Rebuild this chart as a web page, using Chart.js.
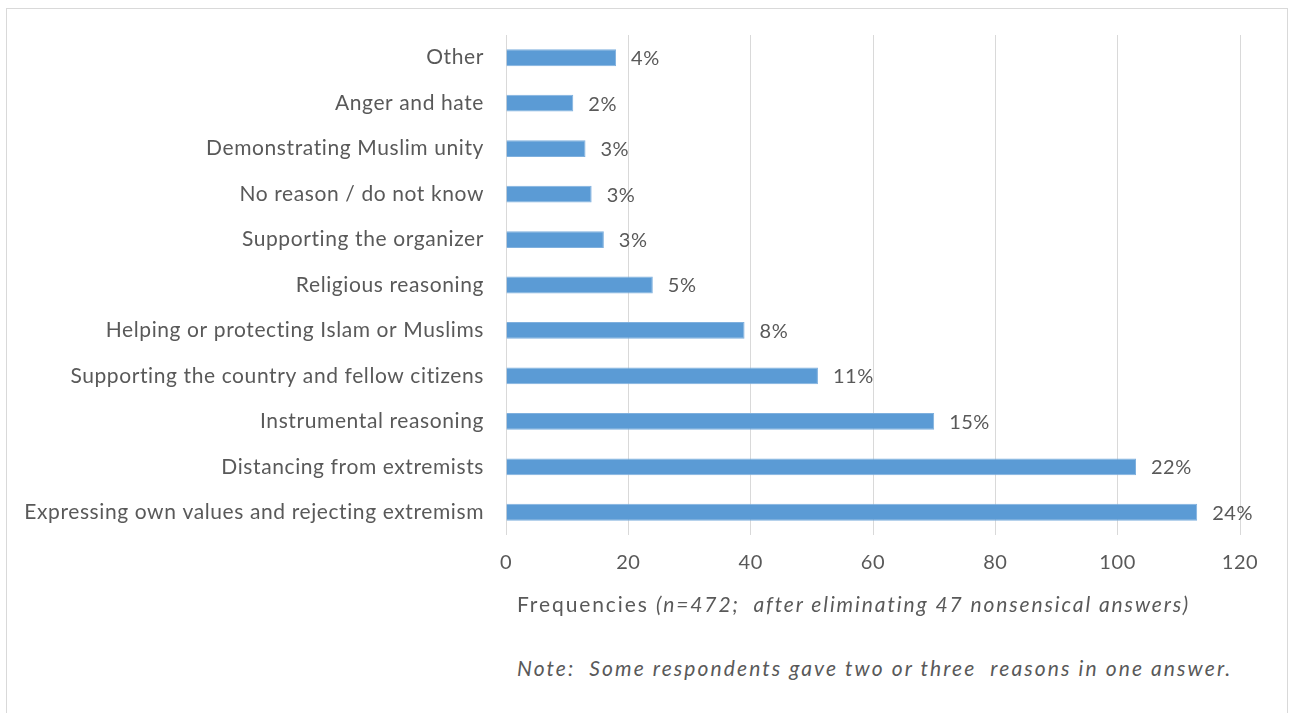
<!DOCTYPE html>
<html>
<head>
<meta charset="utf-8">
<script src="https://cdn.jsdelivr.net/npm/chart.js@4.4.1/dist/chart.umd.min.js"></script>
<style>
    body { margin: 0; background: #fff; }
    #frame {
        position: absolute; left: 6px; top: 8px; width: 1282px; height: 720px;
        border: 1px solid #d9d9d9; box-sizing: border-box;
    }
    #myChart { position: absolute; left: 0; top: 0; }
    .txt {
        position: absolute; font-family: Lato, sans-serif; font-size: 21px;
        color: #595959; white-space: pre; letter-spacing: 1.9px;
    }
</style>
</head>
<body>
<div id="frame"></div>
<canvas id="myChart" width="1290" height="600"></canvas>
<div class="txt" style="left:517px; top:591px;">Frequencies <i>(n=472;  after eliminating 47 nonsensical answers)</i></div>
<div class="txt" style="left:517px; top:655px; letter-spacing:2.1px;"><i>Note:  Some respondents gave two or three  reasons in one answer.</i></div>
<script>
// categories top to bottom, as in the picture
const reasons = [
    "Other",
    "Anger and hate",
    "Demonstrating Muslim unity",
    "No reason / do not know",
    "Supporting the organizer",
    "Religious reasoning",
    "Helping or protecting Islam or Muslims",
    "Supporting the country and fellow citizens",
    "Instrumental reasoning",
    "Distancing from extremists",
    "Expressing own values and rejecting extremism"
]
const frequencies = [18, 11, 13, 14, 16, 24, 39, 51, 70, 103, 113]
const percentLabels = ["4%", "2%", "3%", "3%", "3%", "5%", "8%", "11%", "15%", "22%", "24%"]
const xTicks = [0, 20, 40, 60, 80, 100, 120]

const textColour = "#595959"
const fontFamily = "Lato, sans-serif"

// the reference text is loosely spaced, so spread the canvas letters a bit
const spacing = {
    id: "spacing",
    beforeDraw(chart) {
        chart.ctx.letterSpacing = "0.6px"
    }
}

// writes the % next to the end of each bar
const barLabels = {
    id: "barLabels",
    afterDatasetsDraw(chart) {
        const ctx = chart.ctx
        const meta = chart.getDatasetMeta(0)
        ctx.save()
        ctx.letterSpacing = "0.5px"
        ctx.font = "20px " + fontFamily
        ctx.fillStyle = textColour
        ctx.textAlign = "left"
        ctx.textBaseline = "middle"
        meta.data.forEach(function(bar, i) {
            ctx.fillText(percentLabels[i], bar.x + 15, bar.y + 1)
        })
        ctx.restore()
    }
}

var ctx = document.getElementById("myChart").getContext("2d")
var myChart = new Chart(ctx, {
    type: "bar",
    data: {
        labels: reasons,
        datasets: [{
            data: frequencies,
            backgroundColor: "#5b9bd5",
            borderColor: "#7fb0de",
            borderWidth: 1,
            barPercentage: 0.37,
            categoryPercentage: 1
        }]
    },
    options: {
        indexAxis: "y",
        responsive: false,
        animation: false,
        devicePixelRatio: 1,
        layout: { padding: { top: 35, right: 50, left: 0, bottom: 0 } },
        plugins: {
            legend: { display: false },
            tooltip: { enabled: false }
        },
        scales: {
            x: {
                min: xTicks[0],
                max: xTicks[xTicks.length - 1],
                afterBuildTicks: function(axis) {
                    axis.ticks = xTicks.map(v => ({ value: v }))
                },
                afterFit: function(axis) { axis.height = 65 },
                grid: { color: "#d9d9d9", lineWidth: 1, drawTicks: false },
                border: { display: false },
                ticks: {
                    color: textColour,
                    padding: 16,
                    font: { family: fontFamily, size: 20 }
                }
            },
            y: {
                afterFit: function(axis) { axis.width = 506 },
                grid: { display: false, drawTicks: false },
                border: { display: false },
                ticks: {
                    color: textColour,
                    padding: 22,
                    font: { family: fontFamily, size: 21 }
                }
            }
        }
    },
    plugins: [spacing, barLabels]
})
</script>
</body>
</html>
